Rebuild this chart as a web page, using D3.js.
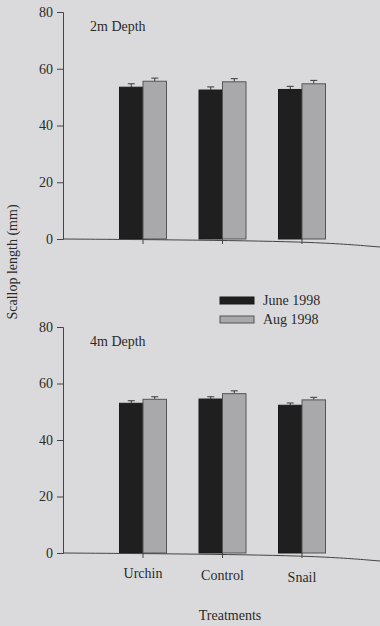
<!DOCTYPE html>
<html>
<head>
<meta charset="utf-8">
<script src="https://cdn.jsdelivr.net/npm/d3@7"></script>
<style>
	body { margin: 0; background: #dadadc; }
	svg { display: block; font-family: "Liberation Serif", "Times New Roman", serif; }
</style>
</head>
<body>
<svg id="chart" width="380" height="626"></svg>
<script>
// Scallop length by treatment, two depths
const treatments = ["Urchin", "Control", "Snail"];
const seasons = ["June 1998", "Aug 1998"];
const yTicks = [0, 20, 40, 60, 80];

// 2m depth: means and standard errors
const depth2June = [53.5, 52.5, 52.7];
const depth2Aug = [55.6, 55.4, 54.7];
const depth2JuneErr = [1.2, 1.1, 1.1];
const depth2AugErr = [1.1, 1.1, 1.2];

// 4m depth
const depth4June = [53.0, 54.5, 52.3];
const depth4Aug = [54.4, 56.4, 54.2];
const depth4JuneErr = [0.9, 0.8, 0.8];
const depth4AugErr = [0.9, 1.0, 0.9];

const colors = { "June 1998": "#1f1f1f", "Aug 1998": "#a9a9ac" };

const svg = d3.select("#chart");

const x = d3.scalePoint()
	.domain(treatments)
	.range([143, 302]);

const xSub = d3.scaleBand()
	.domain(seasons)
	.range([-23.5, 23.5]);

function drawPanel(title, june, aug, juneErr, augErr, top, bottom) {
	const y = d3.scaleLinear().domain([0, 80]).range([bottom, top]);
	const g = svg.append("g");

	const rows = [];
	treatments.forEach((t, i) => {
		rows.push({ t, s: seasons[0], v: june[i], e: juneErr[i] });
		rows.push({ t, s: seasons[1], v: aug[i], e: augErr[i] });
	});

	// error bars (upper half only)
	const eb = g.selectAll(".err").data(rows).enter().append("g")
		.attr("stroke", "#3a3a3a")
		.attr("stroke-width", 1);
	eb.append("line")
		.attr("x1", d => x(d.t) + xSub(d.s) + xSub.bandwidth() / 2)
		.attr("x2", d => x(d.t) + xSub(d.s) + xSub.bandwidth() / 2)
		.attr("y1", d => y(d.v))
		.attr("y2", d => y(d.v + d.e));
	eb.append("line")
		.attr("x1", d => x(d.t) + xSub(d.s) + xSub.bandwidth() / 2 - 3.5)
		.attr("x2", d => x(d.t) + xSub(d.s) + xSub.bandwidth() / 2 + 3.5)
		.attr("y1", d => y(d.v + d.e))
		.attr("y2", d => y(d.v + d.e));

	g.selectAll(".bar").data(rows).enter().append("rect")
		.attr("x", d => x(d.t) + xSub(d.s))
		.attr("y", d => y(d.v))
		.attr("width", xSub.bandwidth())
		.attr("height", d => y(0) - y(d.v))
		.attr("fill", d => colors[d.s])
		.attr("stroke", d => d.s === seasons[0] ? "#1a1a1a" : "#555")
		.attr("stroke-width", 1);

	// y axis
	const yAxis = g.append("g")
		.attr("transform", "translate(63,0)")
		.call(d3.axisLeft(y).tickValues(yTicks).tickSize(6).tickPadding(4));
	yAxis.select(".domain").attr("stroke", "#444");
	yAxis.selectAll(".tick line").attr("stroke", "#444");
	yAxis.selectAll("text")
		.attr("font-size", 14)
		.attr("fill", "#2a2a2a")
		.style("font-family", "Liberation Serif, serif");

	// x baseline across to the page edge, sagging slightly like the scan
	const base = d3.line().curve(d3.curveBasis);
	g.append("path")
		.attr("d", base([[63, y(0)], [200, y(0) + 1], [320, y(0) + 3], [380, y(0) + 8]]))
		.attr("fill", "none")
		.attr("stroke", "#444");
	g.selectAll(".xt").data(treatments).enter().append("line")
		.attr("x1", d => x(d)).attr("x2", d => x(d))
		.attr("y1", y(0)).attr("y2", y(0) + 5)
		.attr("stroke", "#444");

	g.append("text")
		.attr("x", 90)
		.attr("y", top + 19)
		.attr("font-size", 14)
		.attr("fill", "#2a2a2a")
		.text(title);

	return y;
}

drawPanel("2m Depth", depth2June, depth2Aug, depth2JuneErr, depth2AugErr, 12, 239);
const yBottom = drawPanel("4m Depth", depth4June, depth4Aug, depth4JuneErr, depth4AugErr, 327, 553);

// category labels under the lower panel
svg.selectAll(".cat").data(treatments).enter().append("text")
	.attr("x", d => x(d))
	.attr("y", (d, i) => yBottom(0) + 25 + i * 2)
	.attr("text-anchor", "middle")
	.attr("font-size", 14)
	.attr("fill", "#2a2a2a")
	.text(d => d);

svg.append("text")
	.attr("x", 230)
	.attr("y", 620)
	.attr("text-anchor", "middle")
	.attr("font-size", 14)
	.attr("fill", "#2a2a2a")
	.text("Treatments");

svg.append("text")
	.attr("transform", "translate(17,262) rotate(-90)")
	.attr("text-anchor", "middle")
	.attr("font-size", 14)
	.attr("fill", "#2a2a2a")
	.text("Scallop length (mm)");

// legend
const legend = svg.append("g").attr("transform", "translate(220,297)");
seasons.forEach((s, i) => {
	legend.append("rect")
		.attr("x", 0).attr("y", i * 19)
		.attr("width", 34).attr("height", 7)
		.attr("fill", colors[s])
		.attr("stroke", i === 0 ? "#1a1a1a" : "#555");
	legend.append("text")
		.attr("x", 43).attr("y", i * 19 + 8)
		.attr("font-size", 14)
		.attr("fill", "#2a2a2a")
		.text(s);
});
</script>
</body>
</html>
